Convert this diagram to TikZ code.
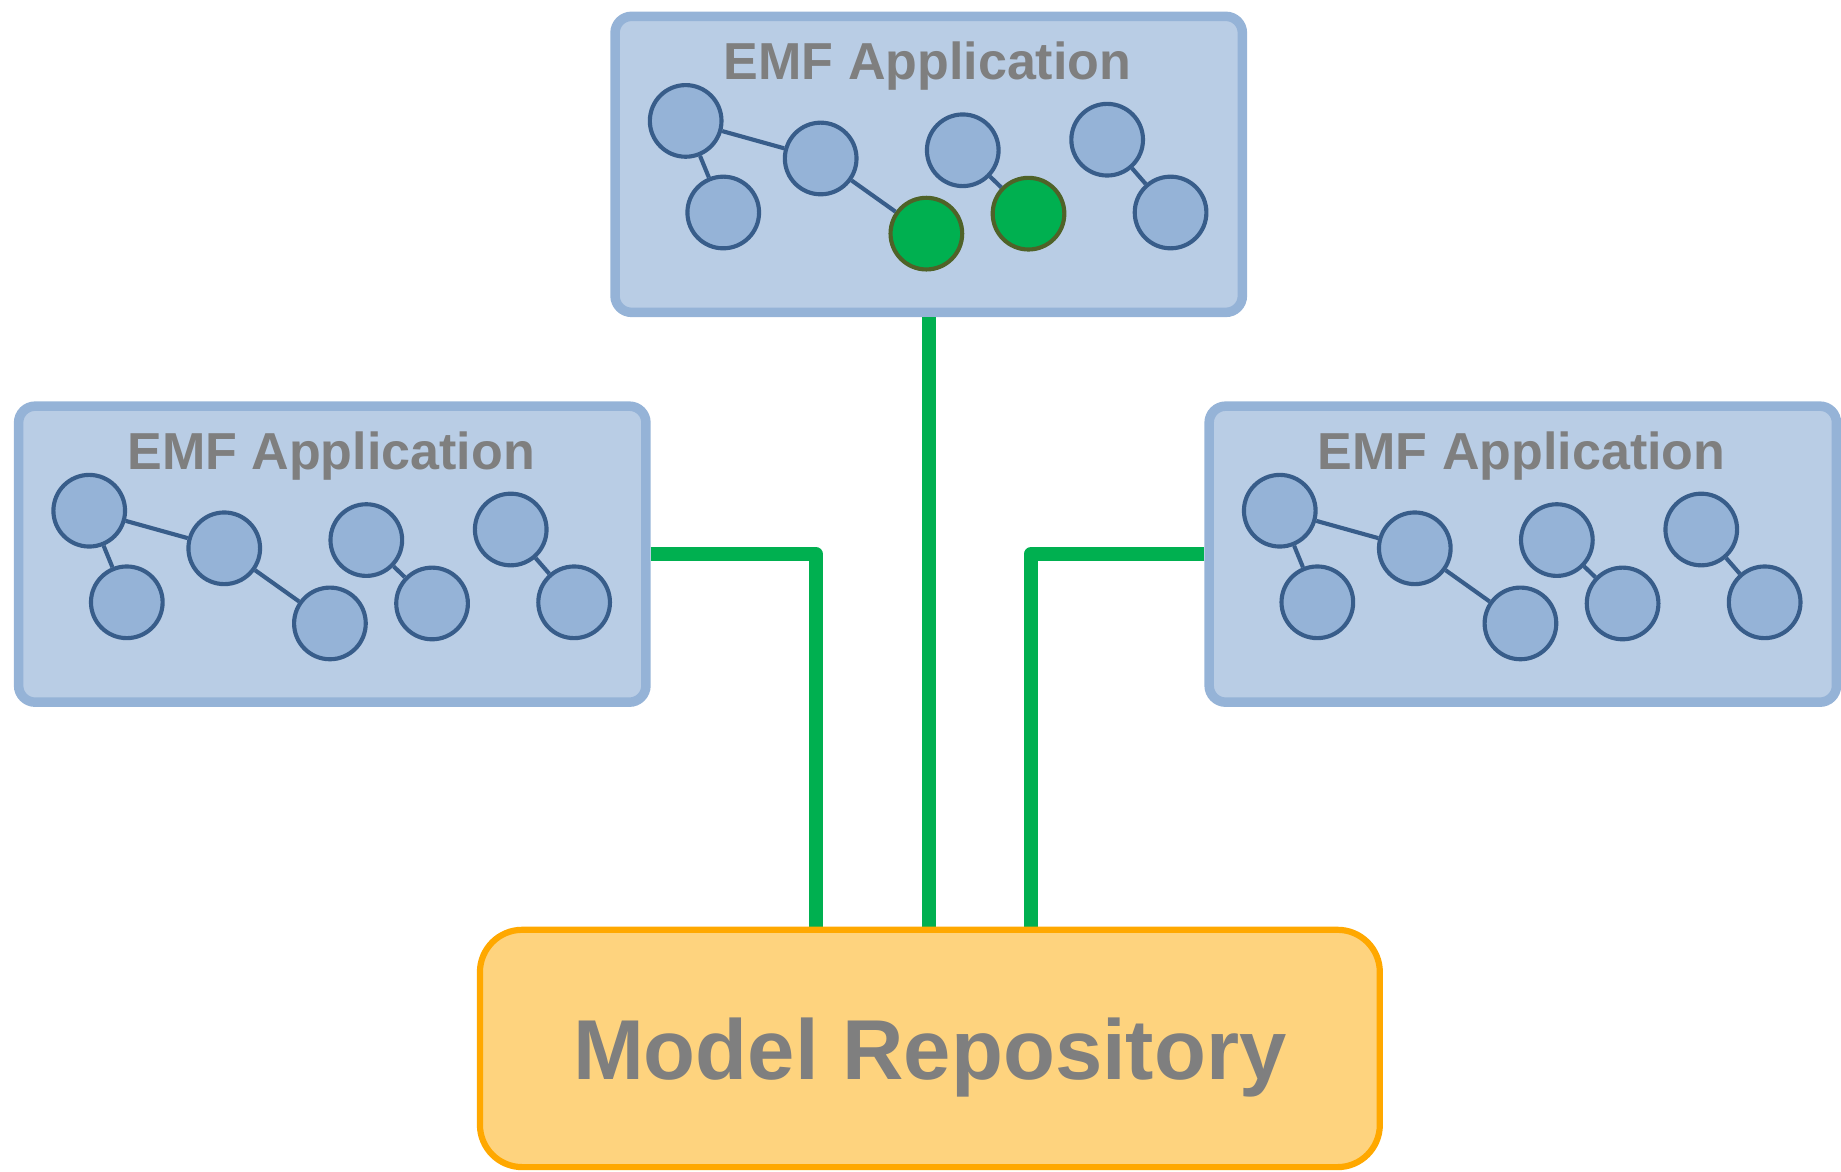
\documentclass[tikz,border=0pt]{standalone}
\usepackage{fontspec}
\setmainfont{Liberation Sans}
\usepackage{tikz}
\definecolor{appfill}{HTML}{B9CDE5}
\definecolor{appline}{HTML}{95B3D7}
\definecolor{objfill}{HTML}{95B3D7}
\definecolor{objline}{HTML}{385D8A}
\definecolor{objgreen}{HTML}{00B050}
\definecolor{objolive}{HTML}{4F6228}
\definecolor{wiregreen}{HTML}{00B050}
\definecolor{repofill}{HTML}{FED37E}
\definecolor{repoline}{HTML}{FFA800}
\definecolor{txtgray}{HTML}{7F7F7F}
\tikzset{
  appbox/.style={draw=appline, fill=appfill, line width=2.3pt, rounded corners=4pt,
    minimum width=5.34cm, minimum height=2.52cm, inner sep=0pt},
  apptitle/.style={text=txtgray, font=\bfseries\fontsize{12.6}{15}\selectfont,
    anchor=base, inner sep=0pt},
  obj/.style={circle, draw=objline, fill=objfill, line width=1pt,
    minimum size=0.61cm, inner sep=0pt},
  greenobj/.style={fill=objgreen, draw=objolive},
  link/.style={draw=objline, line width=1pt},
  wire/.style={draw=wiregreen, line width=3.4pt, line join=round},
  repobox/.style={draw=repoline, fill=repofill, line width=1.5pt, rounded corners=0.36cm,
    minimum width=7.66cm, minimum height=2.02cm, inner sep=0pt, text depth=0pt,
    text=txtgray, font=\bfseries\fontsize{20.6}{25}\selectfont}
}
% one application box: name, x, y, style of d, style of f
\newcommand{\emfapp}[5]{%
  \begin{scope}[shift={(#2,#3)}]
    \node [appbox] (#1) at (271,130) {};
    \node [apptitle] (#1-title) at (270,58) {EMF Application};
    \node [obj] (#1-a) at (64,93) {};
    \node [obj] (#1-b) at (96,171) {};
    \node [obj] (#1-c) at (179,125) {};
    \node [obj,#4] (#1-d) at (269,189) {};
    \node [obj] (#1-e) at (300,118) {};
    \node [obj,#5] (#1-f) at (356,172) {};
    \node [obj] (#1-g) at (423,109) {};
    \node [obj] (#1-h) at (477,171) {};
    \draw [link] (#1-a) -- (#1-b);
    \draw [link] (#1-a) -- (#1-c);
    \draw [link] (#1-c) -- (#1-d);
    \draw [link] (#1-e) -- (#1-f);
    \draw [link] (#1-g) -- (#1-h);
  \end{scope}}

\begin{document}
\begin{tikzpicture}[x=0.01cm, y=-0.01cm]
  \useasboundingbox (0,0) rectangle (1568,998);
  \emfapp{top}{520}{10}{greenobj}{greenobj}
  \emfapp{left}{12}{342}{}{}
  \emfapp{right}{1026}{342}{}{}
  \coordinate (repo-l) at (695,792);
  \coordinate (repo-r) at (878,792);
  \draw [wire] (left.east) -| (repo-l);
  \draw [wire] (right.west) -| (repo-r);
  \draw [wire] (top.south) -- (top.south |- repo-l);
  \node [repobox] (repo) at (792,893) {Model Repository};
\end{tikzpicture}
\end{document}
